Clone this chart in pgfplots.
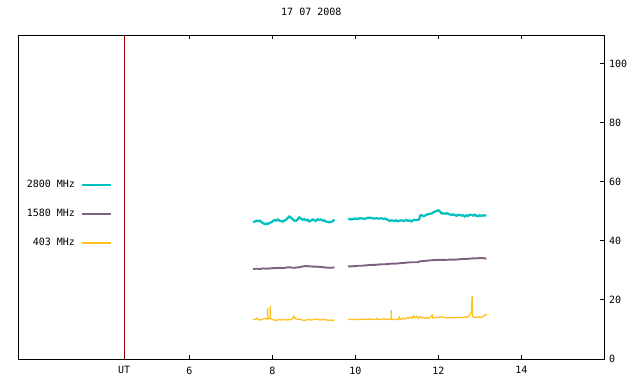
\documentclass[border=0pt]{standalone}
\usepackage{pgfplots}
\pgfplotsset{compat=1.18}
\usepackage{fontspec}
\setmainfont{DejaVu Sans Mono}
\definecolor{cyanC}{HTML}{00C0C0}
\definecolor{purpC}{HTML}{806080}
\definecolor{orangeC}{HTML}{FFC020}
\definecolor{redC}{HTML}{990000}
\newcommand{\gfont}{\fontsize{10bp}{12bp}\selectfont}
\begin{document}
\begin{tikzpicture}
\path[use as bounding box] (-18.3bp,-25bp) rectangle (621.7bp,359bp);
\begin{axis}[
 scale only axis, width=586bp, height=323.7bp,
 xmin=1.88, xmax=16, ymin=0, ymax=109.7,
 xtick={6,8,10,12,14}, ytick={0,20,40,60,80,100},
 extra x ticks={4.43}, extra x tick labels={UT},
 extra x tick style={major tick length=0pt},
 xtick pos=both, xticklabel pos=bottom, ytick pos=right, yticklabel pos=right,
 tick align=inside, major tick length=4bp, minor tick num=0,
 axis line style={line width=1bp, black},
 every tick/.style={line width=1bp, black},
 /pgf/number format/assume math mode=true,
 ticklabel style={font=\gfont},
 xticklabel style={inner sep=0pt, anchor=north, yshift=-7.5bp},
 yticklabel style={inner sep=0pt, anchor=west, xshift=4.7bp},
 title={17 07 2008},
 title style={at={(0.5,1)}, anchor=base, yshift=13.6bp, inner sep=0pt, font=\gfont},
 legend plot pos=right, legend cell align=right,
 legend image code/.code={\draw[#1] (0bp,-1bp) -- (28.7bp,-1bp);},
 legend style={draw=none, fill=none, at={(0.1594,0.450)}, anchor=east,
   inner sep=0pt, outer sep=0pt, row sep=20.2bp, column sep=6bp,
   font=\gfont, nodes={inner sep=0pt}},
]
\addlegendimage{color=cyanC, line width=2bp}
\addlegendentry{2800 MHz}
\addlegendimage{color=purpC, line width=2bp}
\addlegendentry{1580 MHz}
\addlegendimage{color=orangeC, line width=2bp}
\addlegendentry{403 MHz}
\addplot[color=cyanC, line width=2.2bp, forget plot] coordinates {
(7.54,46.3) (7.58,46.6) (7.62,46.9) (7.66,46.7) (7.70,46.9) (7.74,46.4) (7.78,46.0) (7.82,45.7) (7.86,45.9) (7.90,45.8)
(7.94,46.2) (7.98,46.3) (8.02,46.8) (8.06,47.1) (8.10,46.9) (8.14,47.3) (8.18,46.8) (8.22,46.7) (8.26,46.6) (8.30,47.0)
(8.34,47.3) (8.38,47.9) (8.41,48.3) (8.45,47.9) (8.49,47.4) (8.53,46.9) (8.57,46.8) (8.61,47.3) (8.65,48.0) (8.69,47.6)
(8.73,47.2) (8.77,47.4) (8.81,47.0) (8.85,47.2) (8.89,46.6) (8.93,46.9) (8.97,47.3) (9.01,47.0) (9.05,46.8) (9.09,47.4)
(9.13,47.1) (9.17,47.3) (9.21,46.9) (9.25,47.0) (9.29,46.6) (9.33,46.5) (9.37,46.3) (9.41,46.4) (9.45,46.7) (9.50,47.2)
};
\addplot[color=cyanC, line width=2.2bp, forget plot] coordinates {
(9.83,47.6) (9.87,47.4) (9.91,47.3) (9.95,47.4) (9.99,47.6) (10.03,47.5) (10.07,47.5) (10.11,47.7) (10.15,47.6) (10.19,47.6)
(10.23,47.5) (10.27,47.7) (10.31,47.9) (10.35,47.9) (10.39,47.8) (10.43,47.6) (10.47,47.6) (10.51,47.7) (10.55,47.6) (10.59,47.6)
(10.63,47.7) (10.67,47.5) (10.71,47.6) (10.75,47.4) (10.79,47.1) (10.83,46.8) (10.87,47.0) (10.91,46.9) (10.95,46.8) (10.99,47.0)
(11.03,46.7) (11.07,46.9) (11.11,47.0) (11.15,46.8) (11.19,46.9) (11.23,47.1) (11.27,46.8) (11.31,47.0) (11.35,46.6) (11.39,47.0)
(11.43,47.2) (11.47,47.1) (11.51,47.2) (11.54,47.3) (11.56,48.6) (11.60,48.8) (11.64,48.4) (11.68,48.6) (11.72,48.9) (11.76,49.1)
(11.80,49.2) (11.84,49.3) (11.88,49.7) (11.92,49.9) (11.96,50.2) (12.00,50.4) (12.04,50.0) (12.08,49.3) (12.12,49.4) (12.16,49.2)
(12.20,49.4) (12.24,49.2) (12.28,49.0) (12.32,48.8) (12.36,49.0) (12.40,48.8) (12.44,48.5) (12.48,48.9) (12.52,48.8) (12.56,48.6)
(12.60,48.7) (12.64,48.3) (12.68,48.7) (12.72,48.5) (12.76,48.9) (12.80,48.8) (12.84,48.6) (12.88,48.9) (12.92,48.5) (12.96,48.4)
(13.00,48.7) (13.04,48.5) (13.08,48.7) (13.12,48.6) (13.16,48.7)
};
\addplot[color=purpC, line width=1.9bp, forget plot] coordinates {
(7.54,30.5) (7.62,30.6) (7.70,30.5) (7.78,30.7) (7.86,30.6) (7.94,30.7) (8.02,30.8) (8.10,30.8) (8.18,30.9) (8.26,30.8)
(8.34,31.0) (8.42,31.1) (8.50,30.9) (8.58,31.0) (8.66,31.1) (8.74,31.4) (8.82,31.5) (8.90,31.4) (8.98,31.3) (9.06,31.3)
(9.14,31.2) (9.22,31.1) (9.30,31.0) (9.38,30.9) (9.46,31.0) (9.50,31.0)
};
\addplot[color=purpC, line width=1.9bp, forget plot] coordinates {
(9.83,31.4) (9.91,31.4) (9.99,31.5) (10.07,31.6) (10.15,31.6) (10.23,31.7) (10.31,31.8) (10.39,31.9) (10.47,31.9) (10.55,32.0)
(10.63,32.1) (10.71,32.1) (10.79,32.2) (10.87,32.3) (10.95,32.3) (11.03,32.4) (11.11,32.5) (11.19,32.6) (11.27,32.7) (11.35,32.8)
(11.43,32.8) (11.51,32.8) (11.55,33.1) (11.63,33.2) (11.71,33.3) (11.79,33.4) (11.87,33.5) (11.95,33.6) (12.03,33.6) (12.11,33.6)
(12.19,33.6) (12.27,33.7) (12.35,33.7) (12.43,33.7) (12.51,33.8) (12.59,33.9) (12.67,33.9) (12.75,34.0) (12.83,34.1) (12.91,34.1)
(12.99,34.2) (13.07,34.2) (13.16,34.0)
};
\addplot[color=orangeC, line width=1.3bp, forget plot] coordinates {
(7.54,13.5) (7.60,13.5) (7.64,13.8) (7.66,13.4) (7.70,13.2) (7.74,13.3) (7.78,13.5) (7.82,13.8) (7.86,13.6) (7.885,13.5)
(7.889,17.2) (7.893,13.6) (7.93,13.8) (7.948,13.7) (7.952,18.0) (7.956,13.7) (8.00,13.4) (8.04,13.2) (8.08,13.1) (8.12,13.2)
(8.16,13.4) (8.20,13.3) (8.24,13.2) (8.28,13.4) (8.32,13.3) (8.36,13.2) (8.40,13.4) (8.44,13.3) (8.48,13.6) (8.52,14.5)
(8.55,13.8) (8.60,13.5) (8.64,13.5) (8.68,13.4) (8.72,13.2) (8.76,13.1) (8.80,13.2) (8.84,13.3) (8.88,13.4) (8.92,13.2)
(8.96,13.3) (9.00,13.4) (9.04,13.6) (9.08,13.4) (9.12,13.3) (9.16,13.2) (9.20,13.4) (9.24,13.3) (9.28,13.3) (9.32,13.2)
(9.36,13.1) (9.40,13.2) (9.44,13.1) (9.50,13.2)
};
\addplot[color=orangeC, line width=1.3bp, forget plot] coordinates {
(9.83,13.4) (9.90,13.4) (9.98,13.4) (10.06,13.4) (10.14,13.4) (10.22,13.5) (10.30,13.4) (10.38,13.6) (10.42,13.4) (10.50,13.4)
(10.54,13.8) (10.56,13.4) (10.62,13.4) (10.68,13.6) (10.72,13.4) (10.80,13.5) (10.863,13.4) (10.867,16.6) (10.871,13.4) (10.95,13.4)
(11.03,13.4) (11.06,14.2) (11.08,13.4) (11.12,13.5) (11.15,13.9) (11.20,13.6) (11.24,14.0) (11.28,13.8) (11.32,14.2) (11.36,13.8)
(11.40,14.6) (11.44,14.0) (11.48,14.5) (11.52,13.8) (11.56,14.3) (11.60,13.9) (11.64,14.1) (11.68,13.8) (11.72,14.0) (11.76,13.8)
(11.80,14.0) (11.85,14.9) (11.87,13.9) (11.92,14.0) (11.96,14.1) (12.00,14.0) (12.04,14.2) (12.08,14.3) (12.12,14.2) (12.16,14.1)
(12.20,13.9) (12.24,14.0) (12.28,13.9) (12.32,14.0) (12.36,14.1) (12.40,13.9) (12.44,14.0) (12.48,14.2) (12.52,14.0) (12.56,14.1)
(12.60,14.0) (12.64,14.3) (12.68,14.0) (12.72,14.5) (12.76,14.8) (12.78,15.5) (12.80,16.0) (12.815,21.4) (12.825,14.5) (12.86,14.0)
(12.90,14.2) (12.94,14.1) (12.98,14.3) (13.02,14.0) (13.06,14.3) (13.10,14.6) (13.14,15.0) (13.17,15.3)
};
\addplot[color=redC, line width=1bp, forget plot] coordinates {(4.43,0) (4.43,109.7)};
\end{axis}
\end{tikzpicture}
\end{document}
